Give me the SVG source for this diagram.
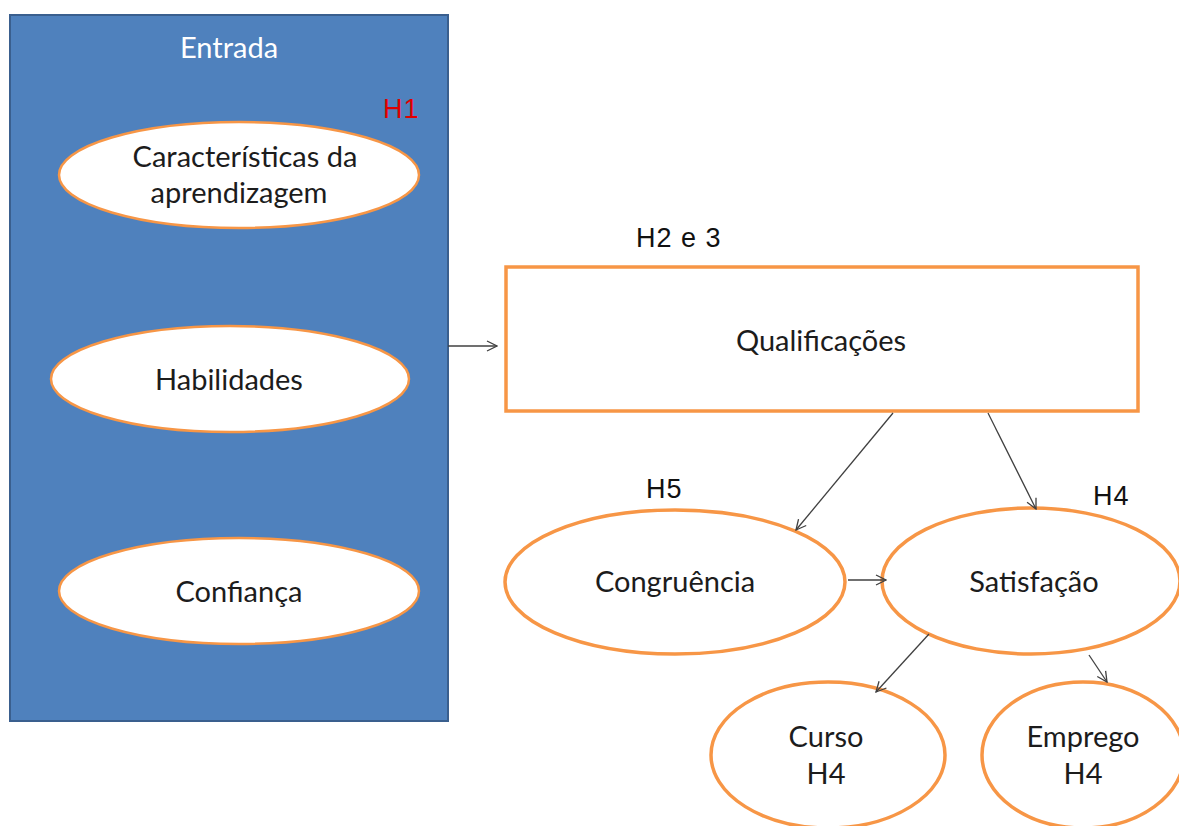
<svg xmlns="http://www.w3.org/2000/svg" width="1179" height="826" viewBox="0 0 1179 826">
<style>
.node{fill:#fff;stroke:#F79646;stroke-width:3.5}
.inner{fill:#fff;stroke:#F79646;stroke-width:2.5}
.t{font-family:Lato,"Open Sans",sans-serif;font-size:29px;fill:#1c1c1c;text-anchor:middle}
.h{font-family:"Liberation Sans",Arial,sans-serif;font-size:27px;fill:#111;letter-spacing:1px}
.c{stroke:#404040;stroke-width:1.3;fill:none;marker-end:url(#a)}
</style>
<defs>
<marker id="a" viewBox="0 0 12 12" refX="11" refY="6" markerWidth="12" markerHeight="12" markerUnits="userSpaceOnUse" orient="auto">
<path d="M1,1 L11,6 L1,11" fill="none" stroke="#404040" stroke-width="1.3"/>
</marker>
</defs>
<rect width="1179" height="826" fill="#fff"/>
<g id="entrada">
<rect x="10" y="15" width="438" height="706" fill="#4F81BD" stroke="#3A5F8E" stroke-width="2"/>
<text x="229" y="58" class="t" style="fill:#fff">Entrada</text>
<text x="383" y="118" class="h" style="fill:#E00000">H1</text>
</g>
<g id="caracteristicas">
<ellipse cx="239" cy="175" rx="180" ry="53" class="inner"/>
<text x="245" y="167" class="t">Características da</text>
<text x="239" y="203" class="t">aprendizagem</text>
</g>
<g id="habilidades">
<ellipse cx="230" cy="379" rx="179" ry="53" class="inner"/>
<text x="229" y="390" class="t">Habilidades</text>
</g>
<g id="confianca">
<ellipse cx="239" cy="591" rx="180" ry="53" class="inner"/>
<text x="239" y="602" class="t">Confiança</text>
</g>
<g id="qualificacoes">
<text x="636" y="247" class="h">H2 e 3</text>
<rect x="506" y="267" width="632" height="144" class="node"/>
<text x="821" y="351" class="t">Qualificações</text>
</g>
<g id="congruencia">
<text x="646" y="498" class="h">H5</text>
<ellipse cx="675" cy="582" rx="170" ry="72" class="node"/>
<text x="675" y="592" class="t">Congruência</text>
</g>
<g id="satisfacao">
<text x="1093" y="505" class="h">H4</text>
<ellipse cx="1031" cy="581" rx="149" ry="73" class="node"/>
<text x="1034" y="592" class="t">Satisfação</text>
</g>
<g id="curso">
<ellipse cx="828" cy="755" rx="117" ry="73" class="node"/>
<text x="826" y="747" class="t">Curso</text>
<text x="826" y="784" class="t">H4</text>
</g>
<g id="emprego">
<ellipse cx="1083" cy="755" rx="101" ry="73" class="node"/>
<text x="1083" y="747" class="t">Emprego</text>
<text x="1083" y="784" class="t">H4</text>
</g>
<g id="connectors">
<line x1="448" y1="346" x2="497" y2="346" class="c"/>
<line x1="893" y1="413" x2="796" y2="530" class="c"/>
<line x1="988" y1="413" x2="1036" y2="509" class="c"/>
<line x1="848" y1="580" x2="886" y2="580" class="c"/>
<line x1="929" y1="634" x2="876" y2="692" class="c"/>
<line x1="1089" y1="655" x2="1107" y2="682" class="c"/>
</g>
</svg>
